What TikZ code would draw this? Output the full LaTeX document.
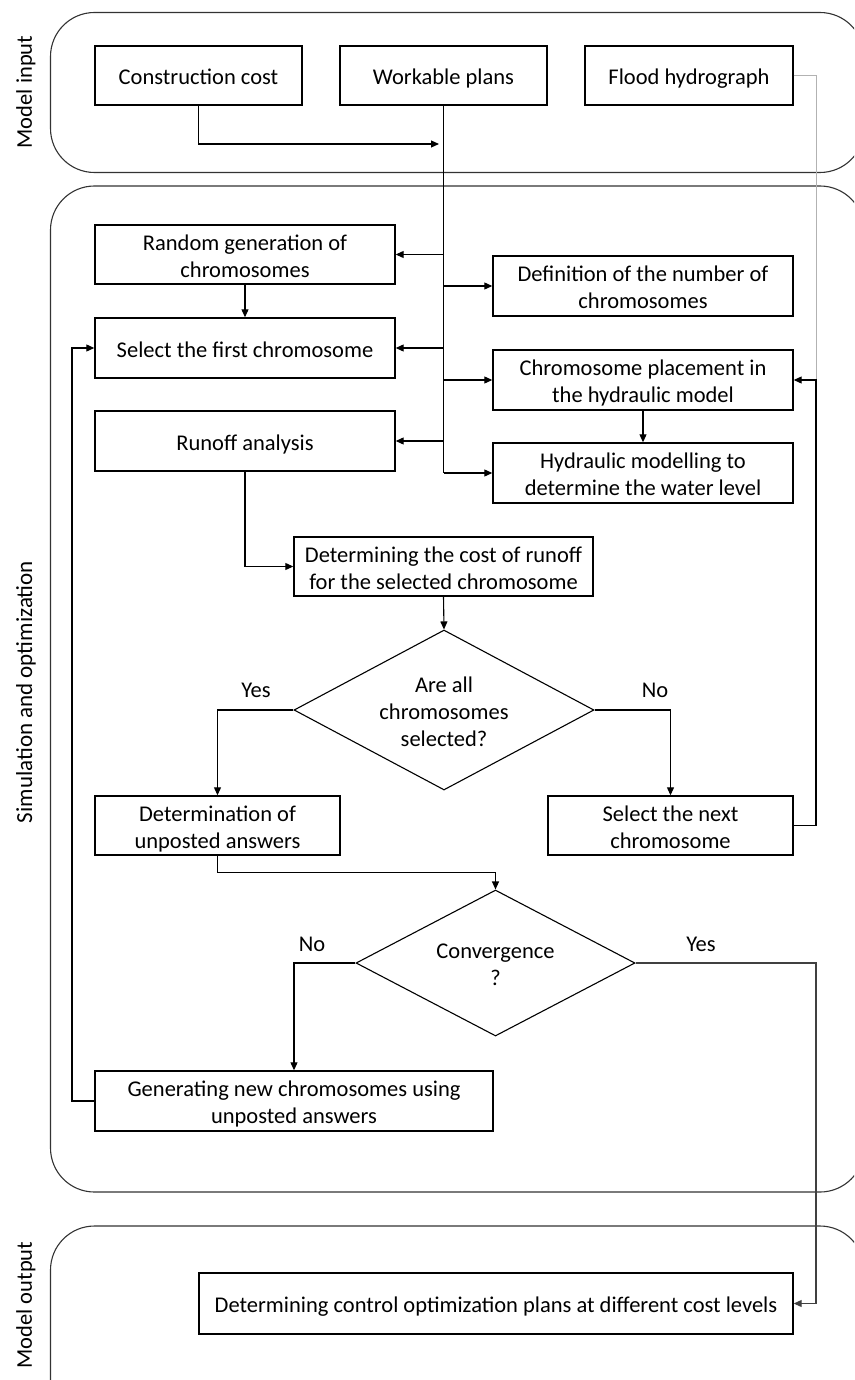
\documentclass[tikz,border=0pt]{standalone}
\usepackage{fontspec}
\setmainfont{Carlito}
\usetikzlibrary{arrows.meta,shapes.geometric}
\newcommand\lst{\rule[-4.5pt]{0pt}{27pt}}
\begin{document}
\begin{tikzpicture}[x=1pt,y=-1pt,
  font=\fontsize{22.5}{27}\selectfont,
  box/.style={draw, line width=1.4pt, align=center, inner sep=0pt, minimum height=60pt},
  dia/.style={draw, line width=1.1pt, diamond, inner sep=0pt},
  dtext/.style={align=center, inner sep=0pt},
  panel/.style={draw=black!80, line width=1.1pt, rounded corners=44pt},
  conn/.style={line width=1.1pt},
  arr/.style={conn, -{Triangle[length=8pt,width=7pt]}},
  lab/.style={inner sep=0pt}]
\useasboundingbox (0,0) rectangle (854,1380);
\clip (0,0) rectangle (854,1380);
% panels
\draw[panel] (50.5,12.5) rectangle (864,172.5);
\draw[panel] (50.5,186) rectangle (864,1192);
\draw[panel] (50.5,1226) rectangle (864,1430);
\node[rotate=90] (lin) at (26,92) {Model input};
\node[rotate=90, font=\fontsize{23}{27}\selectfont] (lsim) at (26,692) {Simulation and optimization};
\node[rotate=90] (lout) at (26,1305) {Model output};
% nodes
\node[box, minimum width=207pt, minimum height=59pt] (cc) at (198.5,75.5) {\lst Construction cost};
\node[box, minimum width=207pt, minimum height=59pt] (wp) at (443.5,75.5) {\lst Workable plans};
\node[box, minimum width=208pt, minimum height=59pt] (fh) at (689,75.5) {\lst Flood hydrograph};
\node[box, minimum width=300pt, minimum height=59pt] (rg) at (245,254.5) {\lst Random generation of\\\lst chromosomes};
\node[box, minimum width=300pt] (dn) at (643,286) {\lst Definition of the number of\\\lst chromosomes};
\node[box, minimum width=300pt] (sf) at (245,348) {\lst Select the first chromosome};
\node[box, minimum width=300pt] (cp) at (643,380) {\lst Chromosome placement in\\\lst the hydraulic model};
\node[box, minimum width=300pt] (ra) at (245,441) {\lst Runoff analysis};
\node[box, minimum width=300pt] (hm) at (643,473) {\lst Hydraulic modelling to\\\lst determine the water level};
\node[box, minimum width=299pt, minimum height=59pt] (dc) at (443.5,566.5) {\lst Determining the cost of runoff\\\lst for the selected chromosome};
\node[dia, minimum width=300pt, minimum height=160pt] (d1) at (444,710) {};
\node[dtext] (d1t) at (d1.center) {\lst Are all\\\lst chromosomes\\\lst selected?};
\node[box, minimum width=245pt, minimum height=59pt] (da) at (217.5,825.5) {\lst Determination of\\\lst unposted answers};
\node[box, minimum width=245pt, minimum height=59pt] (sn) at (670.5,825.5) {\lst Select the next\\\lst chromosome};
\node[dia, minimum width=279pt, minimum height=146pt] (d2) at (495.5,963) {};
\node[dtext] (d2t) at (d2.center) {\lst Convergence\\\lst ?};
\node[box, minimum width=398pt] (gn) at (294,1101) {\lst Generating new chromosomes using\\\lst unposted answers};
\node[box, minimum width=594pt, minimum height=61pt] (out) at (496,1303.5) {\lst Determining control optimization plans at different cost levels};
% labels
\node[lab] (y1) at (256,690) {Yes};
\node[lab] (n1) at (655,690) {No};
\node[lab] (n2) at (312,944) {No};
\node[lab] (y2) at (701,944) {Yes};
% helper coordinates
\coordinate (rx) at (816,0);
\coordinate (lx) at (72,0);
\coordinate (ccend) at (439,144);
% connectors
\draw[arr] (cc.south) |- (ccend);
\draw[conn] (wp.south) -- (wp.south |- hm.west);
\draw[arr] (wp.south |- rg.east) -- (rg.east);
\draw[arr] (wp.south |- dn.west) -- (dn.west);
\draw[arr] (wp.south |- sf.east) -- (sf.east);
\draw[arr] (wp.south |- cp.west) -- (cp.west);
\draw[arr] (wp.south |- ra.east) -- (ra.east);
\draw[arr] (wp.south |- hm.west) -- (hm.west);
\draw[arr] (rg.south) -- (sf.north);
\draw[arr] (cp.south) -- (hm.north);
\draw[arr] (ra.south) |- (dc.west);
\draw[arr] (dc.south) -- (d1.north);
\draw[arr] (d1.west) -| (da.north);
\draw[arr] (d1.east) -| (sn.north);
\draw[line width=1pt, black!30] (fh.east) -- (rx |- fh.east) -- (rx |- cp.east);
\draw[arr] (sn.east) -- (rx |- sn.east) -- (rx |- cp.east) -- (cp.east);
\draw[arr] (da.south) -- ++(0,17) -| (d2.north);
\draw[arr] (d2.west) -| (gn.north);
\draw[arr, black!75] (d2.east) -- (rx |- d2.east) -- (rx |- out.east) -- (out.east);
\draw[arr] (gn.west) -- (lx |- gn.west) -- (lx |- sf.west) -- (sf.west);
\end{tikzpicture}
\end{document}
